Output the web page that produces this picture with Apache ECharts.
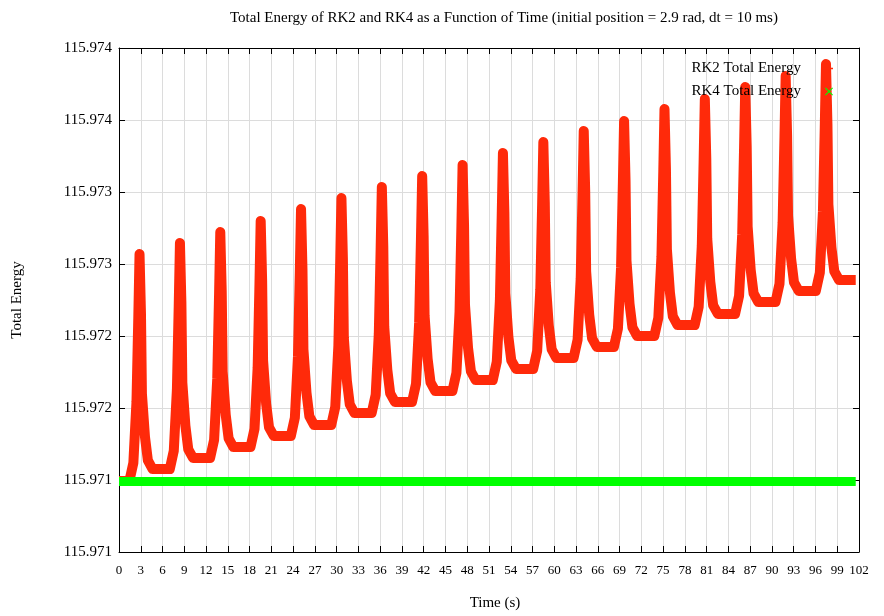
<!DOCTYPE html>
<html><head><meta charset="utf-8">
<script src="https://cdn.jsdelivr.net/npm/echarts@6/dist/echarts.min.js"></script>
<style>html,body{margin:0;padding:0;background:#fff}#c{width:884px;height:616px}</style>
</head><body><div id="c"></div>
<script>
// ---- data ----
const rk2Time = [0,
1.43,1.98,2.41,2.66,2.83,3.03,3.16,3.58,3.98,4.63,
7.00,7.55,7.98,8.23,8.40,8.60,8.73,9.15,9.55,10.20,
12.56,13.11,13.54,13.79,13.96,14.16,14.29,14.71,15.11,15.76,
18.13,18.68,19.11,19.36,19.53,19.73,19.86,20.28,20.68,21.33,
23.69,24.24,24.67,24.92,25.09,25.29,25.42,25.84,26.24,26.89,
29.26,29.81,30.24,30.49,30.66,30.86,30.99,31.41,31.81,32.46,
34.83,35.38,35.81,36.06,36.23,36.43,36.56,36.98,37.38,38.03,
40.39,40.94,41.37,41.62,41.79,41.99,42.12,42.54,42.94,43.59,
45.96,46.51,46.94,47.19,47.36,47.56,47.69,48.11,48.51,49.16,
51.52,52.07,52.50,52.75,52.92,53.12,53.25,53.67,54.07,54.72,
57.09,57.64,58.07,58.32,58.49,58.69,58.82,59.24,59.64,60.29,
62.66,63.21,63.64,63.89,64.06,64.26,64.39,64.81,65.21,65.86,
68.22,68.77,69.20,69.45,69.62,69.82,69.95,70.37,70.77,71.42,
73.79,74.34,74.77,75.02,75.19,75.39,75.52,75.94,76.34,76.99,
79.35,79.90,80.33,80.58,80.75,80.95,81.08,81.50,81.90,82.55,
84.92,85.47,85.90,86.15,86.32,86.52,86.65,87.07,87.47,88.12,
90.49,91.04,91.47,91.72,91.89,92.09,92.22,92.64,93.04,93.69,
96.05,96.60,97.03,97.28,97.45,97.65,97.78,98.20,98.60,99.25,
101.55];

const rk2Energy = [115.970993,
115.970993,115.971119,115.971545,115.972128,115.972569,115.972151,115.971599,115.971300,115.971136,115.971076,
115.971076,115.971202,115.971626,115.972206,115.972646,115.972228,115.971676,115.971377,115.971213,115.971153,
115.971153,115.971279,115.971702,115.972283,115.972722,115.972304,115.971752,115.971453,115.971289,115.971229,
115.971229,115.971355,115.971779,115.972359,115.972799,115.972381,115.971829,115.971530,115.971366,115.971306,
115.971306,115.971432,115.971858,115.972441,115.972882,115.972462,115.971907,115.971607,115.971442,115.971382,
115.971382,115.971508,115.971934,115.972517,115.972958,115.972540,115.971988,115.971689,115.971525,115.971465,
115.971465,115.971591,115.972015,115.972595,115.973035,115.972617,115.972065,115.971766,115.971602,115.971542,
115.971542,115.971668,115.972091,115.972672,115.973111,115.972693,115.972141,115.971842,115.971678,115.971618,
115.971618,115.971744,115.972168,115.972748,115.973188,115.972770,115.972217,115.971918,115.971754,115.971694,
115.971694,115.971820,115.972246,115.972829,115.973271,115.972851,115.972296,115.971996,115.971831,115.971771,
115.971771,115.971897,115.972323,115.972906,115.973347,115.972927,115.972372,115.972072,115.971907,115.971847,
115.971847,115.971973,115.972399,115.972982,115.973424,115.973004,115.972449,115.972149,115.971984,115.971924,
115.971924,115.972050,115.972473,115.973054,115.973493,115.973075,115.972523,115.972224,115.972060,115.972000,
115.972000,115.972126,115.972552,115.973135,115.973576,115.973156,115.972601,115.972301,115.972136,115.972076,
115.972076,115.972202,115.972626,115.973206,115.973646,115.973228,115.972676,115.972377,115.972213,115.972153,
115.972153,115.972279,115.972705,115.973288,115.973729,115.973311,115.972759,115.972460,115.972296,115.972236,
115.972236,115.972362,115.972786,115.973366,115.973806,115.973388,115.972836,115.972537,115.972373,115.972313,
115.972313,115.972439,115.972865,115.973448,115.973889,115.973469,115.972914,115.972614,115.972449,115.972389,
115.972389];

const rk4Time   = [0, 25, 50, 75, 101.55];
const rk4Energy = [115.97099, 115.97099, 115.97099, 115.97099, 115.97099];

const xMin = 0, xMax = 102, xStep = 3;
const yMin = 115.9705, yMax = 115.974, yStep = 0.0005;
const yTickLabels = ['115.971','115.971','115.972','115.972','115.973','115.973','115.974','115.974'];

const titleText = 'Total Energy of RK2 and RK4 as a Function of Time (initial position = 2.9 rad, dt = 10 ms)';
const seriesNames = ['RK2 Total Energy', 'RK4 Total Energy'];

// ---- chart ----
const FONT = 'Liberation Serif';
const RED = '#ff2a0a', GREEN = '#00ff00';
const plusIcon = 'path://M4,0H6V4H10V6H6V10H4V6H0V4H4Z';
const crossIcon = 'path://M1,0L5,4L9,0L10,1L6,5L10,9L9,10L5,6L1,10L0,9L4,5L0,1Z';

const chart = echarts.init(document.getElementById('c'), null, {renderer: 'canvas'});
const lineAxis = {show: true, onZero: false, lineStyle: {color: '#000', width: 1}};
const tick = {show: true, inside: true, length: 6, lineStyle: {color: '#000', width: 1}};
const grid = {lineStyle: {color: '#dcdcdc', width: 1}};

chart.setOption({
  animation: false,
  backgroundColor: '#fff',
  textStyle: {fontFamily: FONT},
  title: {text: titleText, left: 225, top: 6,
    textStyle: {fontFamily: FONT, fontSize: 15, fontWeight: 'normal', color: '#000'}},
  grid: {left: 119, right: 25, top: 48, bottom: 64},
  legend: {
    orient: 'vertical', right: 46, top: 56, align: 'right',
    itemWidth: 46, itemHeight: 8, itemGap: 8, selectedMode: false,
    textStyle: {fontFamily: FONT, fontSize: 15, color: '#000'},
    data: [
      {name: seriesNames[0], icon: plusIcon, itemStyle: {color: RED}},
      {name: seriesNames[1], icon: crossIcon, itemStyle: {color: GREEN}}
    ]
  },
  xAxis: [
    {type: 'value', min: xMin, max: xMax, interval: xStep, position: 'bottom',
     axisLine: lineAxis, axisTick: tick,
     axisLabel: {margin: 12, color: '#000', fontSize: 13, fontFamily: FONT},
     splitLine: Object.assign({show: true}, grid),
     name: 'Time (s)', nameLocation: 'middle', nameGap: 44,
     nameTextStyle: {fontFamily: FONT, fontSize: 15, color: '#000', padding: [0, 0, 0, 12]}},
    {type: 'value', min: xMin, max: xMax, interval: xStep, position: 'top',
     axisLine: lineAxis, axisTick: tick, axisLabel: {show: false}, splitLine: {show: false}}
  ],
  yAxis: [
    {type: 'value', min: yMin, max: yMax, interval: yStep, position: 'left',
     axisLine: lineAxis, axisTick: tick,
     axisLabel: {margin: 7, color: '#000', fontSize: 15, fontFamily: FONT,
       formatter: v => yTickLabels[Math.round((v - yMin) / yStep)]},
     splitLine: Object.assign({show: true}, grid),
     name: 'Total Energy', nameLocation: 'middle', nameGap: 94, nameRotate: 90,
     nameTextStyle: {fontFamily: FONT, fontSize: 15, color: '#000'}},
    {type: 'value', min: yMin, max: yMax, interval: yStep, position: 'right',
     axisLine: lineAxis, axisTick: tick, axisLabel: {show: false}, splitLine: {show: false}}
  ],
  series: [
    {name: seriesNames[0], type: 'line', xAxisIndex: 0, yAxisIndex: 0,
     data: rk2Time.map((t, i) => [t, rk2Energy[i]]),
     showSymbol: false, silent: true, z: 2,
     itemStyle: {color: RED},
     lineStyle: {color: RED, width: 10, join: 'round', cap: 'butt'}},
    {name: seriesNames[1], type: 'line', xAxisIndex: 0, yAxisIndex: 0,
     data: rk4Time.map((t, i) => [t, rk4Energy[i]]),
     showSymbol: false, silent: true, z: 3,
     itemStyle: {color: GREEN},
     lineStyle: {color: GREEN, width: 9, cap: 'butt'}}
  ]
});
</script>
</body></html>
